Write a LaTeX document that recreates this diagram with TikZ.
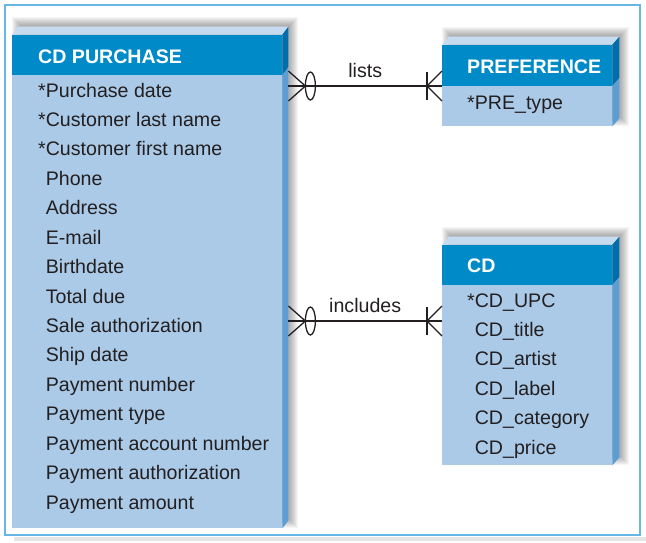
\documentclass[tikz,border=0pt]{standalone}
\usepackage{fontspec}
\setmainfont{Liberation Sans}
\usetikzlibrary{positioning, calc, backgrounds}

\definecolor{hdblue}{RGB}{0,138,200}
\definecolor{hdside}{RGB}{0,110,170}
\definecolor{bdblue}{RGB}{170,202,232}
\definecolor{bdside}{RGB}{92,158,212}
\definecolor{topface}{RGB}{198,219,240}
\definecolor{framebl}{RGB}{102,182,230}
\definecolor{inkgray}{RGB}{35,31,32}

% top and side faces of an entity box: #1 body, #2 header, #3 depth
\newcommand{\entfaces}[3]{%
  \fill[topface] (#2.north west) -- ++(#3,-8) -- ($(#2.north east)+(#3,-8)$) -- (#2.north east) -- cycle;
  \fill[hdside] (#2.north east) -- ++(#3,-8) -- ($(#2.south east)+(#3,-8)$) -- (#2.south east) -- cycle;
  \fill[bdside] (#1.north east) -- ++(#3,-8) -- ($(#1.south east)+(#3,-8)$) -- (#1.south east) -- cycle;
}
\newcommand{\ns}{\phantom{*}}

\begin{document}
\begin{tikzpicture}[x=1pt, y=-1pt,
    font=\fontsize{19.6}{22}\selectfont,
    body/.style={fill=bdblue, inner sep=0pt, anchor=north west},
    head/.style={fill=hdblue, inner sep=0pt, anchor=south west, minimum height=40pt},
    htext/.style={text=white, font=\fontsize{19.6}{22}\selectfont\bfseries, inner sep=0pt},
    attr/.style={text=inkgray, inner sep=0pt, anchor=base west},
    rel/.style={inkgray, line width=1.3pt},
    lbl/.style={text=inkgray, inner sep=0pt},
    zmany/.pic={\draw[rel] (0,-15) -- (17,0) -- (0,15);
      \draw[rel] (22,0) ellipse [x radius=5, y radius=14];},
    omany/.pic={\draw[rel] (0,-15) -- (-15,0) -- (0,15);
      \draw[rel] (-15,-14) -- (-15,14);},
  ]
  \useasboundingbox (0,0) rectangle (646,542);
  \fill[black!10] (14,536.5) rectangle (646,541);
  \draw[framebl, line width=1.5pt] (5,5) rectangle (640,535);

  % entities
  \node[body, minimum width=270pt, minimum height=453pt] (purch) at (12,75) {};
  \node[head, minimum width=270pt] (purch-h) at (purch.north west) {};
  \node[htext, right=26pt of purch-h.west, yshift=-2pt] (purch-t) {CD PURCHASE};

  \node[body, minimum width=170pt, minimum height=40pt] (pref) at (442,86) {};
  \node[head, minimum width=170pt, minimum height=41pt] (pref-h) at (pref.north west) {};
  \node[htext, right=25pt of pref-h.west, yshift=-1.5pt] (pref-t) {PREFERENCE};

  \node[body, minimum width=170pt, minimum height=180pt] (cd) at (442,285) {};
  \node[head, minimum width=170pt] (cd-h) at (cd.north west) {};
  \node[htext, right=25pt of cd-h.west, yshift=-1pt] (cd-t) {CD};

  \entfaces{purch}{purch-h}{6}
  \entfaces{pref}{pref-h}{7}
  \entfaces{cd}{cd-h}{7}

  \begin{scope}[on background layer]
    \foreach \e/\d in {purch/6, pref/7, cd/7}
      \foreach \k in {0,...,8}
        \fill[black, opacity=.04] ($(\e-h.north west)+(8-\k,-10-\k)$)
          rectangle ($(\e.south east)+(\d+2+\k,-8+\k)$);
  \end{scope}

  % attributes
  \foreach \a [count=\i] in {*Purchase date, *Customer last name, *Customer first name,
      \ns Phone, \ns Address, \ns E-mail, \ns Birthdate, \ns Total due,
      \ns Sale authorization, \ns Ship date, \ns Payment number, \ns Payment type,
      \ns Payment account number, \ns Payment authorization, \ns Payment amount}
    \node[attr] (purch-\i) at (38,{97+29.43*(\i-1)}) {\a};
  \node[attr] (pref-1) at (467,109) {*PRE\_type};
  \foreach \a [count=\i] in {*CD\_UPC, \ns CD\_title, \ns CD\_artist, \ns CD\_label,
      \ns CD\_category, \ns CD\_price}
    \node[attr] (cd-\i) at (467,{307+29.4*(\i-1)}) {\a};

  % relationships
  \coordinate (lists-a) at ($(purch.east |- pref.north west)+(6,0)$);
  \coordinate (incl-b) at ($(cd.north west)+(0,36)$);
  \coordinate (incl-a) at ($(purch.east |- incl-b)+(6,0)$);
  \draw[rel] (lists-a) -- node[lbl, above=8pt] {lists} (pref.north west);
  \draw[rel] (incl-a) -- node[lbl, above=8pt] {includes} (incl-b);
  \pic at (lists-a) {zmany};
  \pic at (pref.north west) {omany};
  \pic at (incl-a) {zmany};
  \pic at (incl-b) {omany};
\end{tikzpicture}
\end{document}
